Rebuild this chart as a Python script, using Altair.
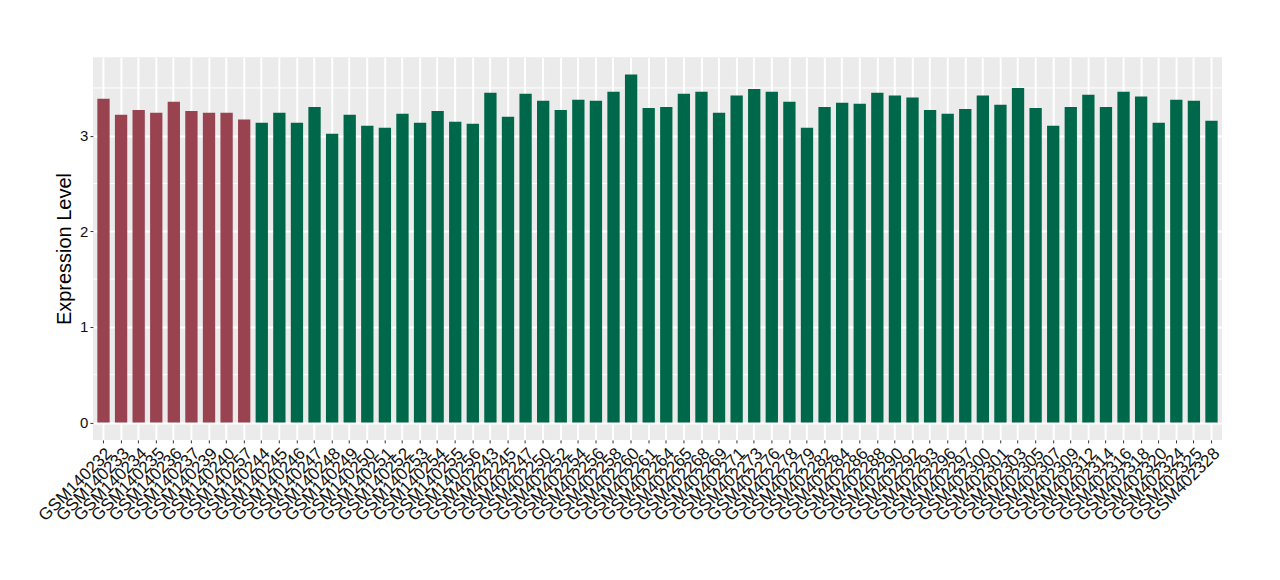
import altair as alt
import pandas as pd

samples = [
    "GSM140232", "GSM140233", "GSM140234", "GSM140235", "GSM140236", "GSM140237",
    "GSM140239", "GSM140240", "GSM140257",
    "GSM140244", "GSM140245", "GSM140246", "GSM140247", "GSM140248", "GSM140249",
    "GSM140250", "GSM140251", "GSM140252", "GSM140253", "GSM140254", "GSM140255",
    "GSM140256",
    "GSM402243", "GSM402245", "GSM402247", "GSM402250", "GSM402252", "GSM402254",
    "GSM402256", "GSM402258", "GSM402260", "GSM402261", "GSM402264", "GSM402265",
    "GSM402268", "GSM402269", "GSM402271", "GSM402273", "GSM402276", "GSM402278",
    "GSM402279", "GSM402282", "GSM402284", "GSM402286", "GSM402288", "GSM402290",
    "GSM402292", "GSM402293", "GSM402296", "GSM402297", "GSM402300", "GSM402301",
    "GSM402303", "GSM402305", "GSM402307", "GSM402309", "GSM402312", "GSM402314",
    "GSM402316", "GSM402318", "GSM402320", "GSM402324", "GSM402325", "GSM402328",
]

values = [
    3.388, 3.22, 3.27, 3.24, 3.356, 3.26, 3.24, 3.24, 3.17,
    3.136, 3.24, 3.136, 3.30, 3.02, 3.22, 3.105, 3.084, 3.23, 3.136, 3.26, 3.147,
    3.126,
    3.45, 3.20, 3.44, 3.367, 3.27, 3.377, 3.367, 3.46, 3.64, 3.29, 3.30, 3.44,
    3.46, 3.24, 3.42, 3.49, 3.46, 3.356, 3.084, 3.30, 3.346, 3.335, 3.45, 3.42,
    3.40, 3.27, 3.23, 3.28, 3.42, 3.325, 3.50, 3.29, 3.105, 3.30, 3.43, 3.30,
    3.46, 3.41, 3.136, 3.377, 3.367, 3.157,
]

group_names = ["Control", "Case"]
group_sizes = [9, 55]
group_colors = ["#9A4350", "#00684A"]
groups = [g for g, n in zip(group_names, group_sizes) for _ in range(n)]

y_ticks = [0, 1, 2, 3]
minor_y = [0.5, 1.5, 2.5, 3.5]

df = pd.DataFrame({"sample": samples, "value": values, "group": groups})
minor_df = pd.DataFrame({"m": minor_y})

FONT = "Liberation Sans"

y_scale = alt.Scale(domain=[-0.182, 3.822], nice=False, zero=False)
y_axis = alt.Axis(
    values=y_ticks,
    title="Expression Level",
    titleFont=FONT,
    titleFontSize=20,
    titleFontWeight="normal",
    titleColor="black",
    titlePadding=5,
    labelFont=FONT,
    labelFontSize=15,
    labelColor="#111111",
    labelPadding=2,
    tickColor="#333333",
    tickSize=3,
    grid=True,
    gridColor="white",
    gridWidth=2,
    domain=False,
)

minor = alt.Chart(minor_df).mark_rule(color="white", strokeWidth=1).encode(
    y=alt.Y("m:Q", scale=y_scale, axis=y_axis)
)

bars = alt.Chart(df).mark_bar().encode(
    x=alt.X(
        "sample:N",
        sort=None,
        scale=alt.Scale(paddingInner=0.3, paddingOuter=0.25),
        axis=alt.Axis(
            title=None,
            labelAngle=-45,
            labelAlign="right",
            labelBaseline="top",
            labelFontSize=17,
            labelFont=FONT,
            labelColor="#111111",
            labelPadding=2,
            tickColor="#333333",
            tickSize=3,
            grid=True,
            gridColor="white",
            gridWidth=2,
            bandPosition=0.5,
            domain=False,
            labelOverlap=False,
        ),
    ),
    y=alt.Y("value:Q", scale=y_scale, axis=y_axis),
    y2=alt.datum(0),
    color=alt.Color(
        "group:N",
        scale=alt.Scale(domain=group_names, range=group_colors),
        legend=None,
    ),
)

chart = (
    alt.layer(minor, bars)
    .properties(
        width=1130,
        height=383,
        autosize=alt.AutoSizeParams(type="none"),
        padding={"left": 85, "top": 49, "right": 50, "bottom": 130},
        background="white",
    )
    .configure_view(fill="#EBEBEB", stroke=None)
)

chart.save("out.html", embed_options={"renderer": "svg", "actions": False})
